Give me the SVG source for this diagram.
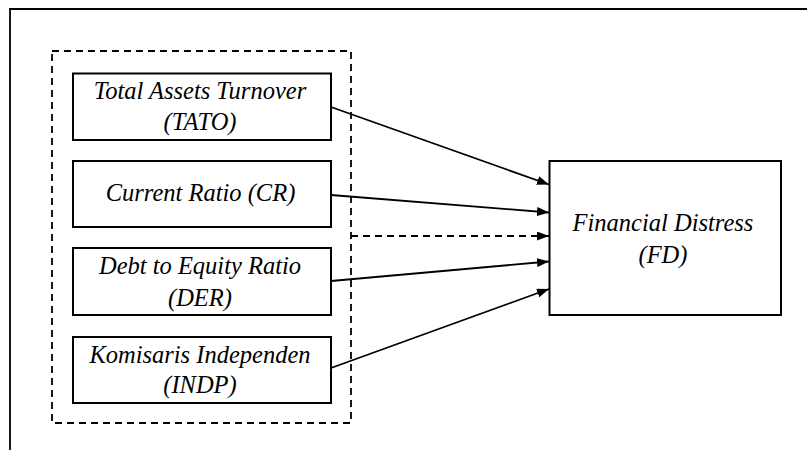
<svg xmlns="http://www.w3.org/2000/svg" width="807" height="450" viewBox="0 0 807 450">
<style>
.box{fill:#fff;stroke:#000;stroke-width:2}
.t{font-family:'Liberation Serif','Times New Roman',serif;font-style:italic;font-size:24.5px;fill:#000;text-anchor:middle}
.c{stroke:#000;stroke-width:1.8;fill:none}
.d{stroke:#000;stroke-width:1.8;fill:none;stroke-dasharray:7,5}
</style>
<defs>
<marker id="ah" markerWidth="12" markerHeight="9" refX="12" refY="4.5" orient="auto" markerUnits="userSpaceOnUse">
<path d="M0,0 L12,4.5 L0,9 Z" fill="#000"/>
</marker>
</defs>
<rect width="807" height="450" fill="#fff"/>
<path d="M10,450 V9 H807" class="c" stroke-width="2"/>
<rect x="52" y="51" width="299" height="372" class="d"/>
<g id="tato"><rect class="box" x="73" y="73.5" width="258" height="66.5"/><text class="t" x="200" y="99">Total Assets Turnover</text><text class="t" x="200" y="130">(TATO)</text></g>
<g id="cr"><rect class="box" x="73" y="161" width="258" height="66"/><text class="t" x="200.5" y="201">Current Ratio (CR)</text></g>
<g id="der"><rect class="box" x="73" y="248" width="258" height="67"/><text class="t" x="200" y="274">Debt to Equity Ratio</text><text class="t" x="200" y="306">(DER)</text></g>
<g id="indp"><rect class="box" x="73" y="337" width="258" height="66"/><text class="t" x="200" y="363">Komisaris Independen</text><text class="t" x="200" y="393">(INDP)</text></g>
<g id="fd"><rect class="box" x="549.5" y="161" width="231.5" height="154"/><text class="t" x="663" y="231">Financial Distress</text><text class="t" x="663" y="263">(FD)</text></g>
<g id="connectors">
<line class="c" x1="331" y1="107" x2="549" y2="184.5" marker-end="url(#ah)"/>
<line class="c" x1="331" y1="195" x2="549" y2="212.5" marker-end="url(#ah)"/>
<line class="d" x1="351" y1="236" x2="549" y2="236" marker-end="url(#ah)"/>
<line class="c" x1="331" y1="281" x2="549" y2="261.5" marker-end="url(#ah)"/>
<line class="c" x1="331" y1="368" x2="549" y2="289" marker-end="url(#ah)"/>
</g>
</svg>
